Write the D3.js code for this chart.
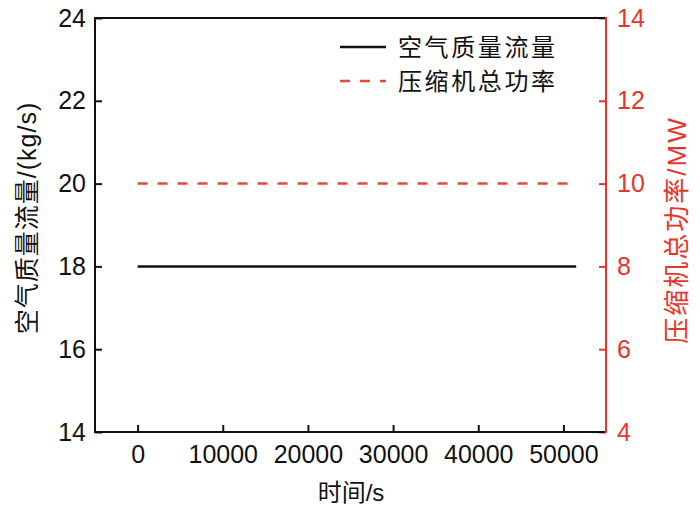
<!DOCTYPE html>
<html><head><meta charset="utf-8">
<script src="https://cdn.jsdelivr.net/npm/d3@7"></script>
<style>body{margin:0;background:#fff;} svg{display:block;}</style>
</head><body>
<svg id="c" width="700" height="512"></svg>
<script>
const timeS = [0, 51500];
const airFlow = [18, 18];
const compPower = [10, 10];
const xTicks = [0, 10000, 20000, 30000, 40000, 50000];
const yLeftTicks = [14, 16, 18, 20, 22, 24];
const yRightTicks = [4, 6, 8, 10, 12, 14];
const seriesNames = ["空气质量流量", "压缩机总功率"];
const xLabel = "时间/s";
const yLeftLabel = "空气质量流量/(kg/s)";
const yRightLabel = "压缩机总功率/MW";

const RED = "#e6352b", DASH = "#e24a3b";
const FONT = "'Liberation Sans', Arial, 'Noto Sans CJK SC', sans-serif";
const m = {l: 95, r: 606, t: 18, b: 432};
const svg = d3.select("#c");
const x = d3.scaleLinear().domain([-5000, 55000]).range([m.l, m.r]);
const yL = d3.scaleLinear().domain([14, 24]).range([m.b, m.t]);
const yR = d3.scaleLinear().domain([4, 14]).range([m.b, m.t]);

function styleAxis(g, color) {
  g.attr("font-size", null).attr("font-family", null);
  g.select(".domain").remove();
  g.selectAll(".tick line").attr("stroke", color).attr("stroke-width", 2);
  g.selectAll(".tick text").attr("fill", color)
    .style("font-size", "25px").style("font-family", FONT);
}
const gx = svg.append("g").attr("transform", `translate(0,${m.b})`)
  .call(d3.axisBottom(x).tickValues(xTicks).tickFormat(d3.format("d")).tickSizeInner(-7).tickSizeOuter(0).tickPadding(13));
styleAxis(gx, "#111");
gx.selectAll(".tick text").attr("dy", "0.71em");
const gl = svg.append("g").attr("transform", `translate(${m.l},0)`)
  .call(d3.axisLeft(yL).tickValues(yLeftTicks).tickSizeInner(-7).tickSizeOuter(0).tickPadding(9));
styleAxis(gl, "#111");
const gr = svg.append("g").attr("transform", `translate(${m.r},0)`)
  .call(d3.axisRight(yR).tickValues(yRightTicks).tickSizeInner(-7).tickSizeOuter(0).tickPadding(11));
styleAxis(gr, RED);

svg.append("path").attr("d", `M${m.r},${m.t}H${m.l}V${m.b}H${m.r}`).attr("fill", "none").attr("stroke", "#111").attr("stroke-width", 2);
svg.append("line").attr("x1", m.r).attr("x2", m.r).attr("y1", m.t - 1).attr("y2", m.b + 1).attr("stroke", RED).attr("stroke-width", 2);

const lineL = d3.line().x((d, i) => x(timeS[i])).y(d => yL(d));
const lineR = d3.line().x((d, i) => x(timeS[i])).y(d => yR(d));
svg.append("path").attr("d", lineL(airFlow)).attr("fill", "none").attr("stroke", "#111").attr("stroke-width", 2.5);
svg.append("path").attr("d", lineR(compPower)).attr("fill", "none").attr("stroke", DASH).attr("stroke-width", 2.5).attr("stroke-dasharray", "10,10");

const leg = svg.append("g");
[[47, "#111", null], [81, DASH, "10,10"]].forEach(([yy, c, da], i) => {
  leg.append("line").attr("x1", 340).attr("x2", 386).attr("y1", yy).attr("y2", yy)
    .attr("stroke", c).attr("stroke-width", 2.5).attr("stroke-dasharray", da);
  leg.append("text").attr("x", 398).attr("y", yy).attr("dy", "0.36em").text(seriesNames[i])
    .attr("font-size", 24).attr("letter-spacing", 2.6).attr("font-family", FONT).attr("fill", "#111");
});

svg.append("text").attr("x", 351).attr("y", 492).attr("dy", "0.36em").attr("text-anchor", "middle")
  .attr("font-size", 24).attr("font-family", FONT).attr("fill", "#111").text(xLabel);
svg.append("text").attr("transform", "translate(27,218) rotate(-90)").attr("dy", "0.36em").attr("text-anchor", "middle")
  .attr("font-size", 25).attr("letter-spacing", 1).attr("font-family", FONT).attr("fill", "#111").text(yLeftLabel);
svg.append("text").attr("transform", "translate(677,230) rotate(-90)").attr("dy", "0.36em").attr("text-anchor", "middle")
  .attr("font-size", 26).attr("letter-spacing", 2).attr("font-family", FONT).attr("fill", RED).text(yRightLabel);
</script>
</body></html>
